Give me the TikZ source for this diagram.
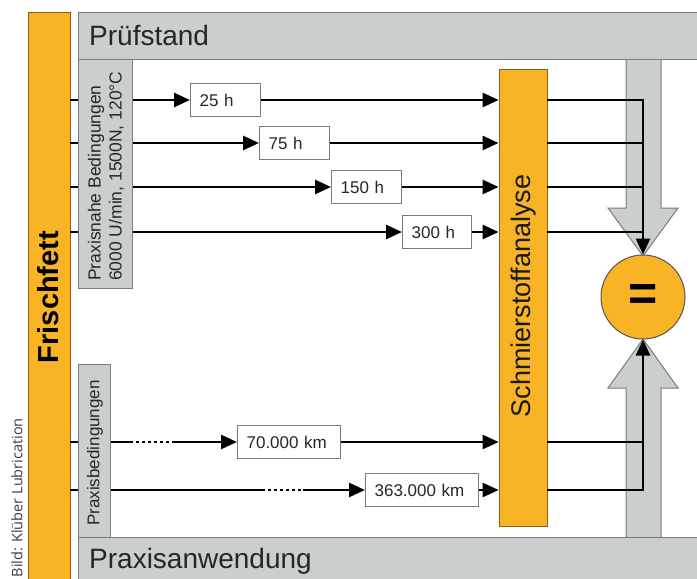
\documentclass[tikz,border=0pt]{standalone}
\usepackage{fontspec}
\setmainfont{Liberation Sans}
\newfontfamily\creditfont{Open Sans}
\usetikzlibrary{arrows.meta}
\definecolor{orng}{HTML}{F8B424}
\definecolor{gry}{HTML}{CBCECE}
\definecolor{gryline}{HTML}{7A7A7A}
\definecolor{credit}{HTML}{3C3C3C}
\begin{document}
\begin{tikzpicture}[x=1pt,y=-1pt,
  lw/.style={line width=2.7pt},
  tip/.style={-{Triangle[length=16pt,width=14pt]}},
  dots/.style={line width=2.7pt, dash pattern=on 3pt off 3pt},
  panel/.style={fill=gry, draw=gryline, line width=1pt, inner sep=0pt},
  bar/.style={fill=orng, draw=orng!55!black, line width=0.8pt, inner sep=0pt},
  box/.style={draw=gryline, line width=1.2pt, fill=white, minimum height=33pt, inner xsep=9pt, inner ysep=0pt, align=left, font=\fontsize{17}{17}\selectfont, anchor=west, text=black!85},
  hdrtxt/.style={font=\fontsize{28}{28}\selectfont, anchor=base west, inner sep=0pt, text=black!85},
  vtxt/.style={rotate=90, inner sep=0pt, text=black!85}
]
\useasboundingbox (0,0) rectangle (697,579);
\begin{scope}
\clip (0,0) rectangle (697,579);

% credit
\node[vtxt, anchor=east, font=\creditfont\fontsize{14.5}{14.5}\selectfont, text=credit] (credit) at (17,418) {Bild: Klüber Lubrication};

% Frischfett bar
\node[bar, minimum width=42, minimum height=580] (frisch) at (49,302) {};
\node[vtxt, font=\bfseries\fontsize{29}{29}\selectfont, text=black] (frischT) at (48,297) {Frischfett};

% big gray arrows
\fill[gry] (626,59) -- (626,208) -- (608,208) -- (643,256) -- (678,208) -- (661,208) -- (661,59) -- cycle;
\draw[gryline, line width=1pt] (626,59) -- (626,208) -- (608,208) -- (643,256) -- (678,208) -- (661,208) -- (661,59);
\fill[gry] (626,537) -- (626,388) -- (608,388) -- (643,339) -- (678,388) -- (661,388) -- (661,537) -- cycle;
\draw[gryline, line width=1pt] (626,537) -- (626,388) -- (608,388) -- (643,339) -- (678,388) -- (661,388) -- (661,537);

% headers
\node[panel, anchor=north west, minimum width=640, minimum height=47] (pruef) at (78,12) {};
\node[hdrtxt] (pruefT) at (89,45) {Prüfstand};
\node[panel, anchor=north west, minimum width=640, minimum height=60] (praxis) at (78,537) {};
\node[hdrtxt] (praxisT) at (89,568) {Praxisanwendung};

% Schmierstoffanalyse bar
\node[bar, minimum width=48, minimum height=457] (schm) at (523,297.5) {};
\node[vtxt, font=\fontsize{27}{27}\selectfont, text=black!90] (schmT) at (524,296) {Schmierstoffanalyse};

% result circle
\node[circle, fill=orng, draw=gryline!70!black, line width=1pt, minimum size=84, inner sep=0pt, font=\bfseries\fontsize{50}{50}\selectfont] (eq) at (643,297) {=};

% boxes
\node[box, text width=52] (b25) at (190,100) {25 h};
\node[box, text width=52] (b75) at (259,143) {75 h};
\node[box, text width=52] (b150) at (331,187) {150 h};
\node[box, text width=51] (b300) at (402,232) {300 h};
\node[box, text width=85] (b70) at (237,442) {70.000 km};
\node[box, text width=95] (b363) at (365,490) {363.000 km};

% left connectors
\draw[lw,tip] (frisch.east |- b25.west) -- (b25.west);
\draw[lw,tip] (b25.east) -- (b25.east -| schm.west);
\draw[lw,tip] (frisch.east |- b75.west) -- (b75.west);
\draw[lw,tip] (b75.east) -- (b75.east -| schm.west);
\draw[lw,tip] (frisch.east |- b150.west) -- (b150.west);
\draw[lw,tip] (b150.east) -- (b150.east -| schm.west);
\draw[lw,tip] (frisch.east |- b300.west) -- (b300.west);
\draw[lw,tip] (b300.east) -- (b300.east -| schm.west);

\coordinate (d5a) at (130,442);
\coordinate (d5b) at (175,442);
\draw[lw] (frisch.east |- b70.west) -- (d5a);
\draw[dots] (d5a) -- (d5b);
\draw[lw,tip] (d5b) -- (b70.west);
\draw[lw,tip] (b70.east) -- (b70.east -| schm.west);

\coordinate (d6a) at (262,490);
\coordinate (d6b) at (303,490);
\draw[lw] (frisch.east |- b363.west) -- (d6a);
\draw[dots] (d6a) -- (d6b);
\draw[lw,tip] (d6b) -- (b363.west);
\draw[lw,tip] (b363.east) -- (b363.east -| schm.west);

% right connectors
\draw[lw,tip] (schm.east |- b25) -- (eq.north |- b25) -- (eq.north);
\draw[lw] (schm.east |- b75) -- (eq.north |- b75);
\draw[lw] (schm.east |- b150) -- (eq.north |- b150);
\draw[lw] (schm.east |- b300) -- (eq.north |- b300);
\draw[lw,tip] (schm.east |- b363) -- (eq.south |- b363) -- (eq.south);
\draw[lw] (schm.east |- b70) -- (eq.south |- b70);

% gray condition columns
\node[panel, anchor=north west, minimum width=54, minimum height=229] (col1) at (78,59) {};
\node[vtxt, anchor=west, align=left, font=\fontsize{17.5}{21}\selectfont] (col1T) at (106,281) {Praxisnahe Bedingungen\\6000 U/min, 1500N, 120°C};
\node[panel, anchor=north west, minimum width=32, minimum height=173] (col2) at (78,364) {};
\node[vtxt, font=\fontsize{17}{17}\selectfont] (col2T) at (95,453) {Praxisbedingungen};
\end{scope}
\end{tikzpicture}
\end{document}
